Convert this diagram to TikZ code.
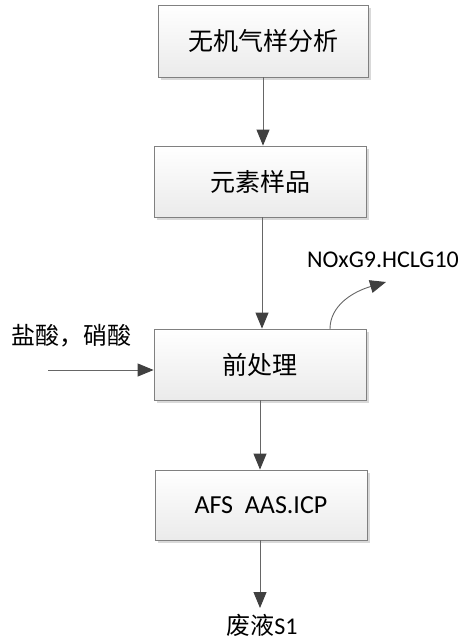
\documentclass[tikz,border=0pt]{standalone}
\usepackage{fontspec}
\setmainfont{Carlito}
\newfontfamily\cjk{Noto Sans CJK SC}
\usetikzlibrary{arrows.meta,shadows}
\begin{document}
\begin{tikzpicture}[x=1pt,y=-1pt,
  procbox/.style={draw=black!50, line width=0.8pt, top color=white, bottom color=black!8,
    drop shadow={shadow xshift=3pt, shadow yshift=-3pt, fill=black!15, opacity=1},
    minimum width=212pt, minimum height=71pt, inner sep=0pt, font=\fontsize{25}{28}\selectfont},
  flow/.style={draw=black!60, line width=0.9pt, -{Triangle[length=16pt,width=13pt,color=black!75]}},
  lbl/.style={inner sep=0pt, font=\fontsize{24}{27}\selectfont}]
\useasboundingbox (0,0) rectangle (463,639);
\node[procbox, minimum width=210pt, minimum height=72pt] (b1) at (263,41) {\cjk 无机气样分析};
\node[procbox] (b2) at (260,181.5) {\cjk 元素样品};
\node[procbox] (b3) at (260,364.5) {\cjk 前处理};
\node[procbox, minimum height=70pt, font=\fontsize{26}{29}\selectfont] (b4) at (261,505) {AFS\ \ AAS.ICP};
\node[lbl] (inl) at (71,336) {\cjk 盐酸，硝酸};
\node[lbl] (outl) at (383,260) {NOxG9.HCLG10};
\node[lbl] (waste) at (262,625) {{\cjk 废液}S1};
\coordinate (instart) at (48,370);
\coordinate (inend) at (b3.west |- instart);
\coordinate (ostart) at (330,329);
\coordinate (oend) at (386,282);
\coordinate (wend) at (260,608);
\draw[flow] (b1.south -| 263,0) -- (b2.north -| 263,0);
\draw[flow] (b2.south -| 262,0) -- (b3.north -| 262,0);
\draw[flow] (b3.south) -- (b4.north -| b3.south);
\draw[flow] (b4.south -| b3.south) -- (wend);
\draw[flow] (instart) -- (inend);
\draw[flow] (ostart) .. controls (330,306) and (352,292) .. (oend);
\end{tikzpicture}
\end{document}
